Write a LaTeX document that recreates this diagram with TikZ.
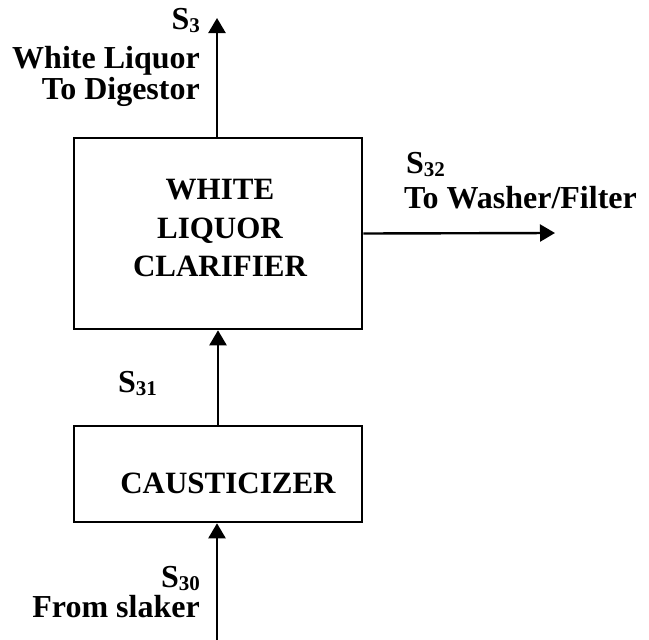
\documentclass[tikz,border=0pt]{standalone}
\usepackage{fontspec}
\setmainfont{Liberation Serif}
\usetikzlibrary{arrows.meta, positioning}
\newcommand{\streamsub}[1]{\raisebox{-3pt}{\fontsize{21}{21}\selectfont#1}}

\begin{document}
\begin{tikzpicture}[x=1pt, y=-1pt,
  unit/.style={draw, line width=2.6pt, inner sep=0pt},
  flow/.style={line width=2.4pt, -{Triangle[length=15pt, width=17pt]}},
  txt/.style={font=\fontsize{32}{38}\selectfont\bfseries, inner sep=0pt},
  unittxt/.style={font=\fontsize{31}{38.5}\selectfont\bfseries, inner sep=0pt, align=center}]
\useasboundingbox (0,0) rectangle (649,640);
\def\w{288}
\node[unit, minimum width=\w pt, minimum height=191pt] (clar) at (218,233.5) {};
\node[unit, minimum width=\w pt, minimum height=96pt] (caus) at (218,474) {};
\node[unittxt, anchor=north] (clartxt) at (220,179) {WHITE\\LIQUOR\\CLARIFIER};
\node[unittxt, anchor=base] (caustxt) at (228,493) {CAUSTICIZER};
\coordinate (dig) at (217,18);
\coordinate (wash) at (555,233);
\coordinate (slak) at (217,640);
\draw[flow] (dig |- clar.north) -- (dig);
\draw[flow] (clar.east) -- (wash);
\draw[flow] (caus.north) -- (clar.south);
\draw[flow] (slak) -- (slak |- caus.south);
\node[txt, anchor=base east] (s3) at (200,29) {S\streamsub{3}};
\node[txt, anchor=base east] (wl) at (200,68) {White Liquor};
\node[txt, anchor=base east] (td) at (200,99) {To Digestor};
\node[txt, anchor=base west] (s32) at (406,173) {S\streamsub{32}};
\node[txt, anchor=base west] (tw) at (404,208) {To Washer/Filter};
\node[txt, anchor=base west] (s31) at (118,392) {S\streamsub{31}};
\node[txt, anchor=base east] (s30) at (200,587) {S\streamsub{30}};
\node[txt, anchor=base east] (fs) at (200,617) {From slaker};
\end{tikzpicture}
\end{document}
